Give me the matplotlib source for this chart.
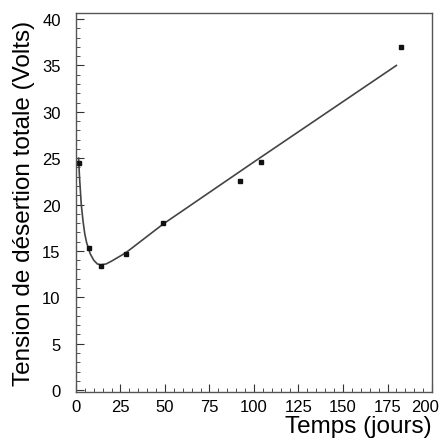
import numpy as np
import matplotlib
matplotlib.use('Agg')
import matplotlib.pyplot as plt
from matplotlib.ticker import MultipleLocator
from matplotlib.transforms import ScaledTranslation

plt.rcParams['font.family'] = ['Liberation Sans', 'DejaVu Sans']

# measured points (jours, volts)
t_mes = [1.7, 7.3, 14, 28, 49, 92, 104, 182.6]
v_mes = [24.5, 15.3, 13.4, 14.7, 18.0, 22.5, 24.6, 37.0]

# fitted curve
t_fit = [1.5, 2, 3, 4, 5, 6, 7, 8, 10, 12, 14, 17, 20, 28, 49, 100, 180]
v_fit = [25.0, 23.0, 20.0, 18.2, 16.8, 15.9, 15.3, 14.7, 14.0, 13.6, 13.5, 13.6, 13.9, 14.8, 17.9, 24.6, 35.0]

fig = plt.figure(figsize=(4.44, 4.39), dpi=100)
ax = fig.add_axes([0.171, 0.105, 0.802, 0.863])

ax.plot(t_fit, v_fit, color='#444444', lw=1.2)
ax.plot(t_mes, v_mes, 's', color='#111111', ms=2.6)

ax.set_xlim(0, 200)
ax.set_ylim(-0.2, 40.65)
ax.xaxis.set_major_locator(MultipleLocator(25))
ax.xaxis.set_minor_locator(MultipleLocator(5))
ax.yaxis.set_major_locator(MultipleLocator(5))
ax.yaxis.set_minor_locator(MultipleLocator(1))
ax.xaxis.set_ticks_position('bottom')
ax.yaxis.set_ticks_position('left')
ax.tick_params(which='both', direction='in', labelsize=12, color='#333333')
ax.tick_params(axis='y', pad=11)
ax.tick_params(axis='x', pad=5)
ax.tick_params(which='major', length=6)
ax.tick_params(which='minor', length=3)
for s in ax.spines.values():
    s.set_linewidth(1.0)
    s.set_color('#555555')

ax.set_ylabel('Tension de désertion totale (Volts)', fontsize=17.5, labelpad=5)
ax.set_xlabel('Temps (jours)', fontsize=17.5, loc='right', labelpad=1)

# last x label sits a little left so it stays inside the image
fig.canvas.draw()
for tick in ax.xaxis.get_major_ticks():
    if abs(tick.get_loc() - 200) < 1e-6:
        lab = tick.label1
        lab.set_transform(lab.get_transform() + ScaledTranslation(-5 / 72, 0, fig.dpi_scale_trans))

fig.savefig('out.png', dpi=100)
